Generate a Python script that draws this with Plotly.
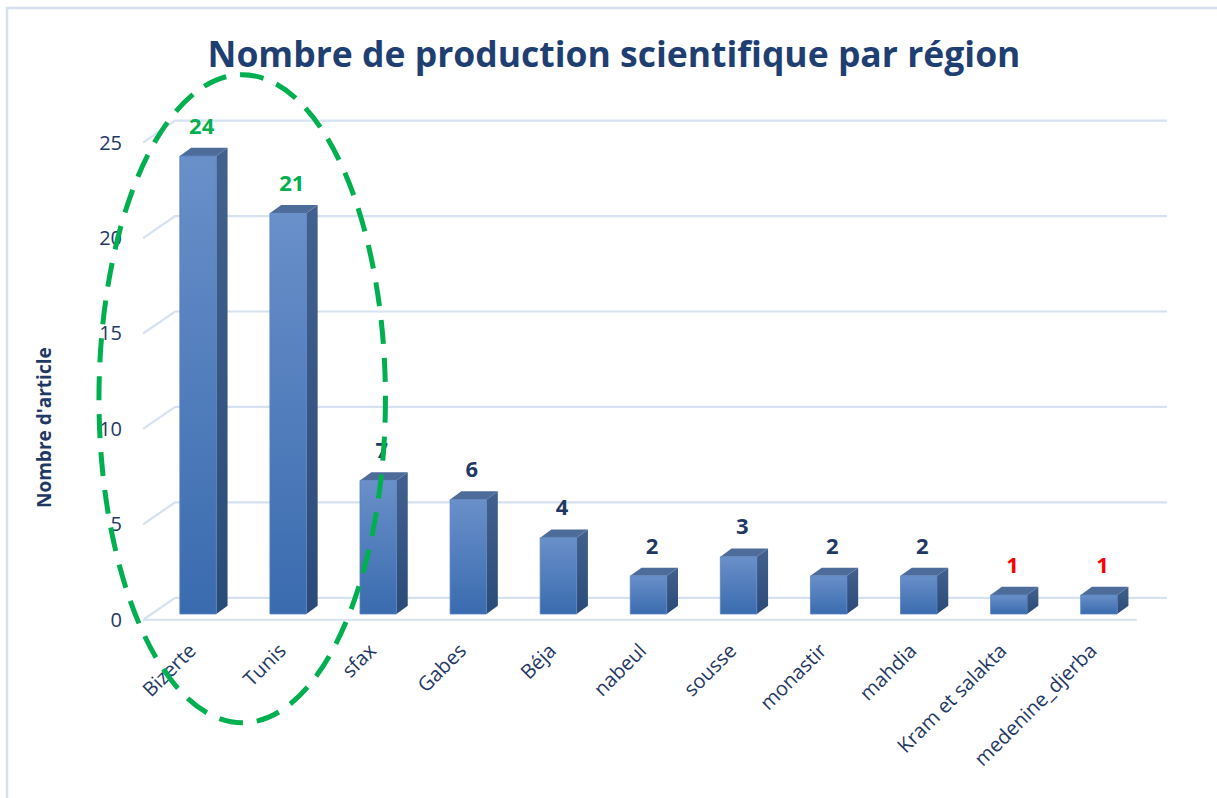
import plotly.graph_objects as go

# ---- data ----
categories = ["Bizerte", "Tunis", "sfax", "Gabes", "Béja", "nabeul", "sousse",
              "monastir", "mahdia", "Kram et salakta", "medenine_djerba"]
values = [24, 21, 7, 6, 4, 2, 3, 2, 2, 1, 1]
label_colors = ["#00B050", "#00B050", "#1F3864", "#1F3864", "#1F3864", "#1F3864",
                "#1F3864", "#1F3864", "#1F3864", "#FF0000", "#FF0000"]
y_ticks = [0, 5, 10, 15, 20, 25]
title_text = "Nombre de production scientifique par région"
y_title = "Nombre d'article"

# ---- geometry / style ----
FONT = "Open Sans, sans-serif"
DARK = "#1F3864"
GRID = "#D6E1F2"
W, H = 1217, 798
ML, MR, MT, MB = 135, 37, 114, 163
XR = [-0.7, 10.9]
YR = [-0.8, 26.5]
bw, dx, dy, base = 0.405, 0.125, 0.43, 0.3     # bar width, depth offsets, floor offset
back_dy = 1.15                                  # back wall offset (value units)
xl_f, xl_b, xr_b, xr_f = -0.61, -0.255, 10.756, 10.42


def to_paper_x(x):
    return (x - XR[0]) / (XR[1] - XR[0])


def to_paper_y(y):
    return (y - YR[0]) / (YR[1] - YR[0])


def px_to_paper_x(px):
    return (px - ML) / (W - ML - MR)


def px_to_paper_y(py):
    return (H - MB - py) / (H - MT - MB)


fig = go.Figure()

# 3D frame grid (left wall diagonals + back wall lines)
gx, gy = [], []
for t in y_ticks:
    gx += [xl_f, xl_b, xr_b, None]
    gy += [t, t + back_dy, t + back_dy, None]
gx += [xl_f, xr_f, None]
gy += [0, 0, None]
fig.add_trace(go.Scatter(x=gx, y=gy, mode="lines", line=dict(color=GRID, width=2.2),
                         hoverinfo="skip", showlegend=False))

# bars as pseudo-3D prisms
for i, v in enumerate(values):
    xl, xr = i - bw / 2, i + bw / 2
    # side face
    fig.add_trace(go.Scatter(
        x=[xr, xr + dx, xr + dx, xr, xr],
        y=[base, base + dy, v + base + dy, v + base, base],
        fill="toself", mode="lines", line=dict(width=0),
        fillgradient=dict(type="vertical", colorscale=[[0, "#2A4A78"], [1, "#43618F"]]),
        hoverinfo="skip", showlegend=False))
    # top face
    fig.add_trace(go.Scatter(
        x=[xl, xr, xr + dx, xl + dx, xl],
        y=[v + base, v + base, v + base + dy, v + base + dy, v + base],
        fill="toself", mode="lines", line=dict(width=0), fillcolor="#4E6C9A",
        hoverinfo="skip", showlegend=False))
    # front face
    fig.add_trace(go.Scatter(
        x=[xl, xr, xr, xl, xl],
        y=[base, base, v + base, v + base, base],
        fill="toself", mode="lines", line=dict(width=0.8, color="#5B83BF"),
        fillgradient=dict(type="vertical", colorscale=[[0, "#3A6BAF"], [1, "#6990C9"]]),
        hoverinfo="skip", showlegend=False))

# data labels
fig.add_trace(go.Scatter(
    x=[i + 0.04 for i in range(len(values))],
    y=[v + base + dy + 0.45 for v in values],
    mode="text", text=[str(v) for v in values], textposition="top center",
    textfont=dict(family=FONT, size=22, color=label_colors, weight="bold"),
    hoverinfo="skip", showlegend=False, cliponaxis=False))

# highlight ellipse around the two leading regions (data coords -> paper)
ell_x = [-1.10, 2.08]
ell_y = [-5.4, 28.56]
shapes = [
    dict(type="circle", xref="paper", yref="paper",
         x0=to_paper_x(ell_x[0]), x1=to_paper_x(ell_x[1]),
         y0=to_paper_y(ell_y[0]), y1=to_paper_y(ell_y[1]),
         line=dict(color="#00B050", width=5, dash="24px,14px"), layer="above"),
]
# chart border (left + top)
shapes.append(dict(type="path", xref="paper", yref="paper",
                   path=(f"M {px_to_paper_x(7)},{px_to_paper_y(H)} "
                         f"L {px_to_paper_x(7)},{px_to_paper_y(8)} "
                         f"L {px_to_paper_x(W)},{px_to_paper_y(8)}"),
                   line=dict(color="#D5E0F1", width=2.5)))

fig.update_layout(
    width=W, height=H,
    margin=dict(l=ML, r=MR, t=MT, b=MB, autoexpand=False),
    paper_bgcolor="white", plot_bgcolor="white",
    title=dict(text=title_text, x=614 / W, xanchor="center", y=1 - 55 / H, yanchor="middle",
               xref="container", yref="container",
               font=dict(family=FONT, size=35.5, color="#1F3F73", weight="bold")),
    xaxis=dict(range=XR, tickmode="array", tickvals=list(range(len(categories))),
               ticktext=categories, tickangle=-45, showgrid=False, zeroline=False,
               showline=False, ticks="", ticklabelshift=-8, ticklabelstandoff=-1,
               tickfont=dict(family=FONT, size=20, color=DARK), fixedrange=True),
    yaxis=dict(range=YR, tickmode="array", tickvals=y_ticks, showgrid=False,
               zeroline=False, showline=False, ticks="", ticklabelstandoff=12,
               tickfont=dict(family=FONT, size=20, color=DARK), fixedrange=True),
    shapes=shapes,
    annotations=[dict(text=y_title, textangle=-90, xref="paper", yref="paper",
                      x=px_to_paper_x(44), y=px_to_paper_y(428),
                      xanchor="center", yanchor="middle", showarrow=False,
                      font=dict(family=FONT, size=19, color=DARK, weight="bold"))],
    showlegend=False,
)

fig.write_html("out.html",
               config={"displayModeBar": False},
               post_script="document.body.style.margin='0';"
                           "document.body.style.overflow='hidden';")
